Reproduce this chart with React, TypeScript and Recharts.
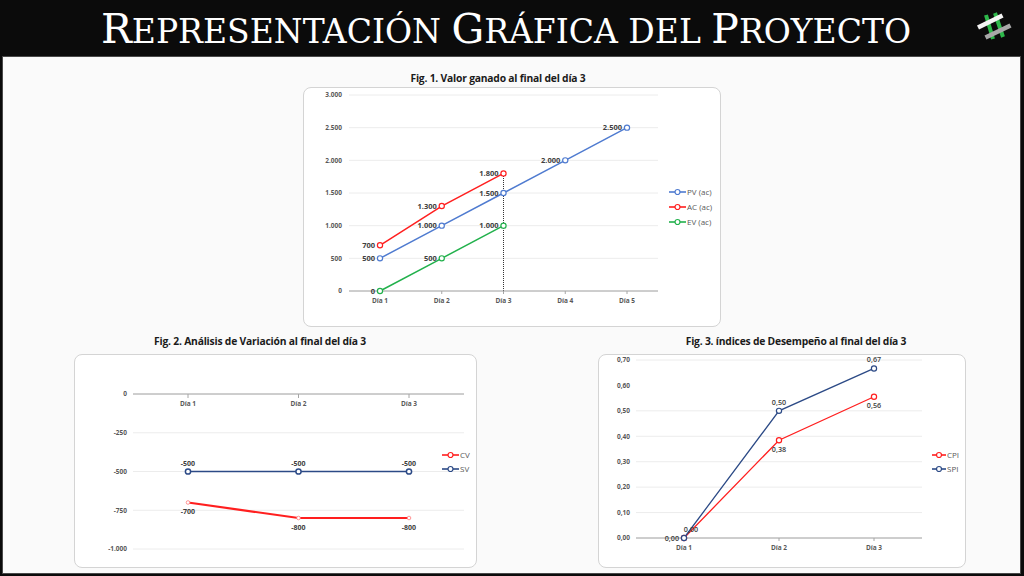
import React from "react";
import {
  LineChart,
  Line,
  XAxis,
  YAxis,
  CartesianGrid,
  LabelList,
  Legend,
  ReferenceLine,
} from "recharts";

const heading = ["Representación", "Gráfica", "del", "Proyecto"];

// fig 1 – valor ganado
const days5 = ["Día 1", "Día 2", "Día 3", "Día 4", "Día 5"];
const pv = [500, 1000, 1500, 2000, 2500];
const ac = [700, 1300, 1800, null, null];
const ev = [0, 500, 1000, null, null];
const ticks1 = [0, 500, 1000, 1500, 2000, 2500, 3000];
const legend1 = ["PV (ac)", "AC (ac)", "EV (ac)"];

// fig 2 – variaciones
const days3 = ["Día 1", "Día 2", "Día 3"];
const cv = [-700, -800, -800];
const sv = [-500, -500, -500];
const ticks2 = [0, -250, -500, -750, -1000];
const legend2 = ["CV", "SV"];

// fig 3 – indices
const cpi = [0, 0.3846, 0.5556];
const spi = [0, 0.5, 0.6667];
const ticks3 = [0, 0.1, 0.2, 0.3, 0.4, 0.5, 0.6, 0.7];
const legend3 = ["CPI", "SPI"];

const FONT = "'Open Sans', 'Noto Sans', sans-serif";
const BLUE = "#4f7bd0";
const RED = "#ff1f1f";
const GREEN = "#22b14c";
const NAVY = "#2c4a86";
const AXIS = "#a6a6a6";
const GRID = "#ececec";
const LABEL = "#404040";

const data1 = days5.map((d, i) => ({ day: d, pv: pv[i], ac: ac[i], ev: ev[i] }));
const data2 = days3.map((d, i) => ({ day: d, cv: cv[i], sv: sv[i] }));
const data3 = days3.map((d, i) => ({ day: d, cpi: cpi[i], spi: spi[i] }));

const dots = (v: any) =>
  v == null ? "" : String(v).replace(/\B(?=(\d{3})+(?!\d))/g, ".");
const comma = (v: any) => (v == null ? "" : Number(v).toFixed(2).replace(".", ","));

const tickStyle = { fontSize: 6.5, fontWeight: 700, fill: "#595959", fontFamily: FONT };

function makeLegend(order: string[], symW: number, rowH: number) {
  return ({ payload }: any) => {
    const items = [...(payload || [])].sort(
      (a: any, b: any) => order.indexOf(a.value) - order.indexOf(b.value)
    );
    return (
      <div style={{ fontFamily: FONT, fontSize: 8, color: "#595959" }}>
        {items.map((p: any) => (
          <div key={p.value} style={{ display: "flex", alignItems: "center", height: rowH }}>
            <svg width={symW} height={8}>
              <line x1={0} y1={4} x2={symW} y2={4} stroke={p.color} strokeWidth={1.6} />
              <circle cx={symW / 2} cy={4} r={2.5} fill="#fff" stroke={p.color} strokeWidth={1.2} />
            </svg>
            <span style={{ marginLeft: 1 }}>{p.value}</span>
          </div>
        ))}
      </div>
    );
  };
}

function TopTick(props: any) {
  const { x, y, payload } = props;
  return (
    <g>
      <line x1={x} x2={x} y1={y} y2={y + 4} stroke={AXIS} />
      <text x={x} y={y + 12} textAnchor="middle" {...tickStyle}>
        {payload.value}
      </text>
    </g>
  );
}

type Place = "left" | "top" | "bottom";

// data label drawn beside a point; place may vary per index
function makeLabel(
  place: Place | ((i: number) => Place),
  fmt: (v: any) => string,
  size: number,
  weight = 700,
  dxTop = 0
) {
  return (props: any) => {
    const vb = props.viewBox || {};
    const x = props.x ?? vb.x;
    const y = props.y ?? vb.y;
    const { value, index } = props;
    if (value == null || x == null) return null;
    const where = typeof place === "function" ? place(index) : place;
    const common = { fontSize: size, fontWeight: weight, fill: LABEL, fontFamily: FONT };
    if (where === "left")
      return (
        <text x={x - 5} y={y + size * 0.36} textAnchor="end" {...common}>
          {fmt(value)}
        </text>
      );
    if (where === "top")
      return (
        <text x={x + (index === 0 ? dxTop : 0)} y={y - 6} textAnchor="middle" {...common}>
          {fmt(value)}
        </text>
      );
    return (
      <text x={x} y={y + 6 + size * 0.8} textAnchor="middle" {...common}>
        {fmt(value)}
      </text>
    );
  };
}

const box = (left: number, top: number, width: number, height: number): React.CSSProperties => ({
  position: "absolute",
  left,
  top,
  width,
  height,
  background: "#fff",
  border: "1px solid #d4d4d4",
  borderRadius: 8,
  boxSizing: "border-box",
});

const title = (left: number, top: number): React.CSSProperties => ({
  position: "absolute",
  left,
  top,
  width: 300,
  textAlign: "center",
  fontFamily: FONT,
  fontWeight: 700,
  fontSize: 10.3,
  color: "#1a1a1a",
  letterSpacing: -0.2,
});

export default function App() {
  return (
    <div style={{ position: "relative", width: 1024, height: 576, background: "#0b0b0b", overflow: "hidden" }}>
      <style>{`body{margin:0}`}</style>

      <div
        style={{
          position: "absolute",
          left: 0,
          top: 3,
          width: 1012,
          height: 52,
          lineHeight: "52px",
          textAlign: "center",
          color: "#fff",
          fontFamily: "'DejaVu Serif', serif",
          textTransform: "uppercase",
          whiteSpace: "nowrap",
        }}
      >
        {heading.map((w, i) => {
          const big = w[0] === w[0].toUpperCase();
          return (
            <span key={w}>
              {i > 0 ? <span style={{ fontSize: 33 }}> </span> : null}
              <span style={{ fontSize: big ? 41 : 33 }}>{w[0]}</span>
              <span style={{ fontSize: 33 }}>{w.slice(1)}</span>
            </span>
          );
        })}
      </div>

      <svg style={{ position: "absolute", left: 974, top: 4 }} width={42} height={42}>
        <line x1={12} y1={11} x2={19} y2={35} stroke="#2db84a" strokeWidth={4} />
        <line x1={21} y1={9} x2={29} y2={33} stroke="#2db84a" strokeWidth={4} />
        <line x1={4} y1={23.5} x2={28.5} y2={11.5} stroke="#f4f4f4" strokeWidth={4.5} />
        <line x1={11.5} y1={33.5} x2={36.5} y2={21.5} stroke="#a8a8a8" strokeWidth={4.5} />
      </svg>

      <div
        style={{
          position: "absolute",
          left: 2,
          top: 56,
          width: 1019,
          height: 518,
          background: "#fafafa",
          border: "1px solid #4a4a4a",
          boxSizing: "border-box",
        }}
      />

      {/* Fig 1 */}
      <div style={title(348, 71)}>Fig. 1. Valor ganado al final del día 3</div>
      <div style={box(303, 87, 418, 240)}>
        <LineChart
          width={418}
          height={240}
          data={data1}
          margin={{ top: 8, right: 63, bottom: 16, left: 6 }}
          style={{ position: "absolute", left: -1, top: -1 }}
        >
          <CartesianGrid vertical={false} stroke={GRID} />
          <XAxis
            dataKey="day"
            padding={{ left: 31, right: 31 }}
            height={20}
            interval={0}
            tick={tickStyle}
            tickSize={3}
            tickMargin={4}
            stroke={AXIS}
          />
          <YAxis
            width={40}
            domain={[0, 3000]}
            ticks={ticks1}
            tickFormatter={dots}
            tick={tickStyle}
            axisLine={false}
            tickLine={false}
            tickSize={5}
            tickMargin={2}
          />
          <ReferenceLine
            segment={[
              { x: days5[2], y: 0 },
              { x: days5[2], y: ac[2] as number },
            ]}
            stroke="#333"
            strokeDasharray="1 1"
          />
          <Legend
            layout="vertical"
            align="center"
            verticalAlign="middle"
            wrapperStyle={{ left: 366, top: 97, width: 60 }}
            content={makeLegend(legend1, 17, 15)}
          />
          <Line dataKey="pv" name="PV (ac)" stroke={BLUE} strokeWidth={1.5} dot={{ r: 2.6, fill: "#fff", strokeWidth: 1.2 }} isAnimationActive={false}>
            <LabelList dataKey="pv" content={makeLabel("left", dots, 7.5)} />
          </Line>
          <Line dataKey="ac" name="AC (ac)" stroke={RED} strokeWidth={1.5} dot={{ r: 2.6, fill: "#fff", strokeWidth: 1.2 }} isAnimationActive={false}>
            <LabelList dataKey="ac" content={makeLabel("left", dots, 7.5)} />
          </Line>
          <Line dataKey="ev" name="EV (ac)" stroke={GREEN} strokeWidth={1.5} dot={{ r: 2.6, fill: "#fff", strokeWidth: 1.2 }} isAnimationActive={false}>
            <LabelList dataKey="ev" content={makeLabel("left", dots, 7.5)} />
          </Line>
        </LineChart>
      </div>

      {/* Fig 2 */}
      <div style={title(110, 334)}>Fig. 2. Análisis de Variación al final del día 3</div>
      <div style={box(74, 354, 403, 214)}>
        <LineChart
          width={403}
          height={214}
          data={data2}
          margin={{ top: 39, right: 13, bottom: 19, left: 9 }}
          style={{ position: "absolute", left: -1, top: -1 }}
        >
          <CartesianGrid vertical={false} stroke={GRID} />
          <XAxis
            dataKey="day"
            orientation="top"
            padding={{ left: 55, right: 55 }}
            height={1}
            interval={0}
            tick={<TopTick />}
            tickLine={false}
            tickSize={0}
            tickMargin={0}
            stroke={AXIS}
          />
          <YAxis
            width={50}
            domain={[-1000, 0]}
            ticks={ticks2}
            tickFormatter={dots}
            tick={tickStyle}
            axisLine={false}
            tickLine={false}
            tickSize={4}
            tickMargin={2}
          />
          <Legend
            layout="vertical"
            align="center"
            verticalAlign="middle"
            wrapperStyle={{ left: 368, top: 93.5, width: 40 }}
            content={makeLegend(legend2, 17, 14.3)}
          />
          <Line dataKey="cv" name="CV" stroke={RED} strokeWidth={2.2} dot={{ r: 1.8, fill: "#fff", stroke: "#ff7a7a", strokeWidth: 0.8 }} isAnimationActive={false}>
            <LabelList dataKey="cv" content={makeLabel("bottom", dots, 7)} />
          </Line>
          <Line dataKey="sv" name="SV" stroke={NAVY} strokeWidth={1.6} dot={{ r: 2.6, fill: "#fff", strokeWidth: 1.5 }} isAnimationActive={false}>
            <LabelList dataKey="sv" content={makeLabel("top", dots, 7)} />
          </Line>
        </LineChart>
      </div>

      {/* Fig 3 */}
      <div style={title(646, 334)}>Fig. 3. índices de Desempeño al final del día 3</div>
      <div style={box(598, 354, 368, 214)}>
        <LineChart
          width={368}
          height={214}
          data={data3}
          margin={{ top: 6, right: 44, bottom: 10, left: 6 }}
          style={{ position: "absolute", left: -1, top: -1 }}
        >
          <CartesianGrid vertical={false} stroke={GRID} />
          <XAxis
            dataKey="day"
            padding={{ left: 48, right: 48 }}
            height={20}
            interval={0}
            tick={tickStyle}
            tickSize={3}
            tickMargin={4}
            stroke={AXIS}
          />
          <YAxis
            width={32}
            domain={[0, 0.7]}
            ticks={ticks3}
            tickFormatter={comma}
            tick={tickStyle}
            axisLine={false}
            tickLine={false}
            tickSize={4}
            tickMargin={2}
          />
          <Legend
            layout="vertical"
            align="center"
            verticalAlign="middle"
            wrapperStyle={{ left: 334, top: 94, width: 40 }}
            content={makeLegend(legend3, 14, 13.7)}
          />
          <Line dataKey="cpi" name="CPI" stroke={RED} strokeWidth={1.3} dot={{ r: 2.6, fill: "#fff", strokeWidth: 1.2 }} isAnimationActive={false}>
            <LabelList dataKey="cpi" content={makeLabel((i) => (i === 0 ? "left" : "bottom"), comma, 7.2, 600)} />
          </Line>
          <Line dataKey="spi" name="SPI" stroke={NAVY} strokeWidth={1.3} dot={{ r: 2.6, fill: "#fff", strokeWidth: 1.2 }} isAnimationActive={false}>
            <LabelList dataKey="spi" content={makeLabel("top", comma, 7.2, 600, 7)} />
          </Line>
        </LineChart>
      </div>
    </div>
  );
}
